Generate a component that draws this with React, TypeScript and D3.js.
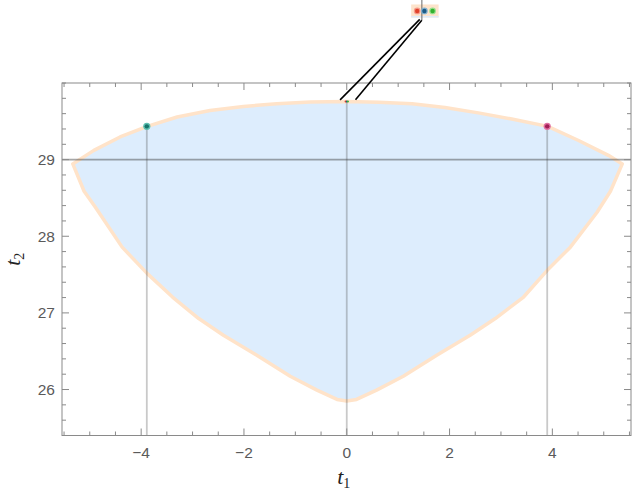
import React, { useEffect, useRef } from "react";
import * as d3 from "d3";

// ---- data ----
const xDomain = [-5.54, 5.53];
const yDomain = [25.4, 30];
const xTickValues = [-4, -2, 0, 2, 4];
const yTickValues = [26, 27, 28, 29];

// upper boundary of region, left -> right
const upperX = [-5.33, -4.92, -4.41, -3.88, -3.3, -2.66, -2.01, -1.36, -0.71, 0, 0.62, 1.27, 1.91, 2.56, 3.21, 3.91, 4.51, 5.09, 5.36];
const upperY = [28.944, 29.121, 29.296, 29.434, 29.556, 29.642, 29.694, 29.729, 29.751, 29.76, 29.75, 29.73, 29.68, 29.61, 29.53, 29.434, 29.25, 29.056, 28.944];
// lower boundary of region, right -> left
const lowerX = [5.13, 4.87, 4.35, 3.93, 3.44, 2.89, 2.4, 1.75, 1.1, 0.58, 0.19, 0, -0.19, -0.58, -1.1, -1.75, -2.4, -2.88, -3.39, -3.88, -4.37, -4.89, -5.11];
const lowerY = [28.587, 28.314, 27.858, 27.577, 27.207, 26.926, 26.708, 26.448, 26.174, 25.992, 25.871, 25.85, 25.871, 25.992, 26.174, 26.448, 26.708, 26.926, 27.207, 27.512, 27.858, 28.379, 28.587];

// highlighted points
const pointX = [-3.89, 3.9];
const pointY = [29.434, 29.434];
const pointFill = ["#17756b", "#a11d55"];
const pointRing = ["#5fc0b0", "#e070a0"];

// reference lines
const hLineY = [29];
const vLineX = [-3.89, 0, 3.9];
const vLineTop = [29.434, 29.77, 29.434];

// callout (top)
const calloutAnchorX = [-0.13, 0.17];
const calloutAnchorY = 29.78;
const calloutEndX = [1.42, 1.46];
const calloutEndY = [30.83, 30.82];
const calloutDotX = [1.37, 1.51, 1.67];
const calloutDotY = 30.94;
const calloutDotFill = ["#e0412b", "#1d5b86", "#33b12f"];
const calloutDotRing = ["#f59a8a", "#7fb0d0", "#9be08f"];
const calloutTopX = 0;
const calloutTopY = 29.76;

const W = 635;
const H = 497;

export default function App() {
  const ref = useRef<SVGSVGElement>(null);

  useEffect(() => {
    const svg = d3.select(ref.current);
    svg.selectAll("*").remove();

    const left = 62, right = 631, top = 83, bottom = 435.5;
    const x = d3.scaleLinear().domain(xDomain).range([left, right]);
    const y = d3.scaleLinear().domain(yDomain).range([bottom, top]);

    const defs = svg.append("defs");
    defs.append("clipPath").attr("id", "plotclip")
      .append("rect").attr("x", left).attr("y", top).attr("width", right - left).attr("height", bottom - top);

    const g = svg.append("g").attr("clip-path", "url(#plotclip)");

    // region
    const pts: [number, number][] = [];
    upperX.forEach((v, i) => pts.push([v, upperY[i]]));
    lowerX.forEach((v, i) => pts.push([v, lowerY[i]]));
    const line = d3.line<[number, number]>().x(d => x(d[0])).y(d => y(d[1])).curve(d3.curveLinearClosed);
    g.append("path").attr("d", line(pts) as string)
      .attr("fill", "#ddedfd")
      .attr("stroke", "#ffe3c9")
      .attr("stroke-width", 3.5)
      .attr("stroke-linejoin", "round");

    // vertical reference lines
    vLineX.forEach((vx, i) => {
      g.append("line")
        .attr("x1", x(vx)).attr("x2", x(vx))
        .attr("y1", y(vLineTop[i])).attr("y2", bottom)
        .attr("stroke", "rgba(60,60,60,0.28)").attr("stroke-width", 1.8);
    });
    // horizontal reference line
    hLineY.forEach(hy => {
      g.append("line")
        .attr("x1", left).attr("x2", right)
        .attr("y1", y(hy)).attr("y2", y(hy))
        .attr("stroke", "rgba(60,60,60,0.45)").attr("stroke-width", 1.6);
    });

    // tiny colored dots at top point
    calloutDotFill.forEach((c, i) => {
      g.append("circle").attr("cx", x(calloutTopX) + (i - 1) * 1.2).attr("cy", y(calloutTopY)).attr("r", 1)
        .attr("fill", c);
    });

    // points
    pointX.forEach((px, i) => {
      g.append("circle").attr("cx", x(px)).attr("cy", y(pointY[i])).attr("r", 3.6)
        .attr("fill", pointRing[i]);
      g.append("circle").attr("cx", x(px)).attr("cy", y(pointY[i])).attr("r", 2.2)
        .attr("fill", pointFill[i]);
    });

    // frame
    const frame = svg.append("g");
    frame.append("rect").attr("x", left).attr("y", top).attr("width", right - left).attr("height", bottom - top)
      .attr("fill", "none").attr("stroke", "#8a8a8a").attr("stroke-width", 1);

    const tickColor = "#8a8a8a";
    const xMinor = d3.range(-5.5, 5.51, 0.5).filter(v => !xTickValues.some(t => Math.abs(t - v) < 1e-6));
    const yMinor = d3.range(25.4, 30.01, 0.2).filter(v => !yTickValues.some(t => Math.abs(t - v) < 1e-6));
    const addXTicks = (vals: number[], len: number) => {
      vals.forEach(v => {
        frame.append("line").attr("x1", x(v)).attr("x2", x(v)).attr("y1", bottom).attr("y2", bottom - len)
          .attr("stroke", tickColor).attr("stroke-width", 1);
        frame.append("line").attr("x1", x(v)).attr("x2", x(v)).attr("y1", top).attr("y2", top + len)
          .attr("stroke", tickColor).attr("stroke-width", 1);
      });
    };
    const addYTicks = (vals: number[], len: number) => {
      vals.forEach(v => {
        frame.append("line").attr("x1", left).attr("x2", left + len).attr("y1", y(v)).attr("y2", y(v))
          .attr("stroke", tickColor).attr("stroke-width", 1);
        frame.append("line").attr("x1", right).attr("x2", right - len).attr("y1", y(v)).attr("y2", y(v))
          .attr("stroke", tickColor).attr("stroke-width", 1);
      });
    };
    addXTicks(xTickValues, 7);
    addXTicks(xMinor, 4);
    addYTicks(yTickValues, 7);
    addYTicks(yMinor, 4);

    const fmt = (v: number) => (v < 0 ? "\u2212" + Math.abs(v) : String(v));
    xTickValues.forEach(v => {
      frame.append("text").attr("x", x(v)).attr("y", bottom + 22)
        .attr("text-anchor", "middle").attr("font-family", "'Liberation Sans', Arial, sans-serif")
        .attr("font-size", 15.5).attr("fill", "#5a5a5a").text(fmt(v));
    });
    yTickValues.forEach(v => {
      frame.append("text").attr("x", left - 7).attr("y", y(v) + 5.5)
        .attr("text-anchor", "end").attr("font-family", "'Liberation Sans', Arial, sans-serif")
        .attr("font-size", 15.5).attr("fill", "#5a5a5a").text(fmt(v));
    });

    // axis labels
    const xl = svg.append("text").attr("x", x(0) - 3).attr("y", 484).attr("text-anchor", "middle")
      .attr("font-family", "'Liberation Serif', 'Times New Roman', serif").attr("font-size", 22).attr("fill", "#222");
    xl.append("tspan").attr("font-style", "italic").text("t");
    xl.append("tspan").attr("font-size", 14).attr("dy", 4).text("1");

    const yl = svg.append("text").attr("transform", `translate(20,${(top + bottom) / 2}) rotate(-90)`)
      .attr("text-anchor", "middle")
      .attr("font-family", "'Liberation Serif', 'Times New Roman', serif").attr("font-size", 22).attr("fill", "#222");
    yl.append("tspan").attr("font-style", "italic").text("t");
    yl.append("tspan").attr("font-size", 14).attr("dy", 4).text("2");

    // callout
    const co = svg.append("g");
    const bx0 = x(calloutDotX[0]) - 6, bx1 = x(calloutDotX[2]) + 6;
    const by0 = y(calloutDotY) - 6.5, by1 = y(calloutDotY) + 6.5;
    co.append("rect").attr("x", bx0).attr("y", by0).attr("width", bx1 - bx0).attr("height", by1 - by0)
      .attr("fill", "#fde3cb");
    co.append("rect").attr("x", bx0).attr("y", by1 - 1.5).attr("width", bx1 - bx0).attr("height", 1.5)
      .attr("fill", "#dcebfb");
    co.append("line").attr("x1", x(calloutEndX[1])).attr("x2", x(calloutEndX[1]))
      .attr("y1", 0).attr("y2", y(calloutEndY[1]))
      .attr("stroke", "rgba(90,90,90,0.6)").attr("stroke-width", 1.5);
    calloutAnchorX.forEach((ax, i) => {
      co.append("line").attr("x1", x(ax)).attr("y1", y(calloutAnchorY))
        .attr("x2", x(calloutEndX[i])).attr("y2", y(calloutEndY[i]))
        .attr("stroke", "#000").attr("stroke-width", 1.6);
    });
    calloutDotX.forEach((dx, i) => {
      co.append("circle").attr("cx", x(dx)).attr("cy", y(calloutDotY)).attr("r", 3.4).attr("fill", calloutDotRing[i]);
      co.append("circle").attr("cx", x(dx)).attr("cy", y(calloutDotY)).attr("r", 2.2).attr("fill", calloutDotFill[i]);
    });
  }, []);

  return (
    <svg ref={ref} width={W} height={H}
      style={{ position: "absolute", left: 0, top: 0, background: "#fff" }} />
  );
}
